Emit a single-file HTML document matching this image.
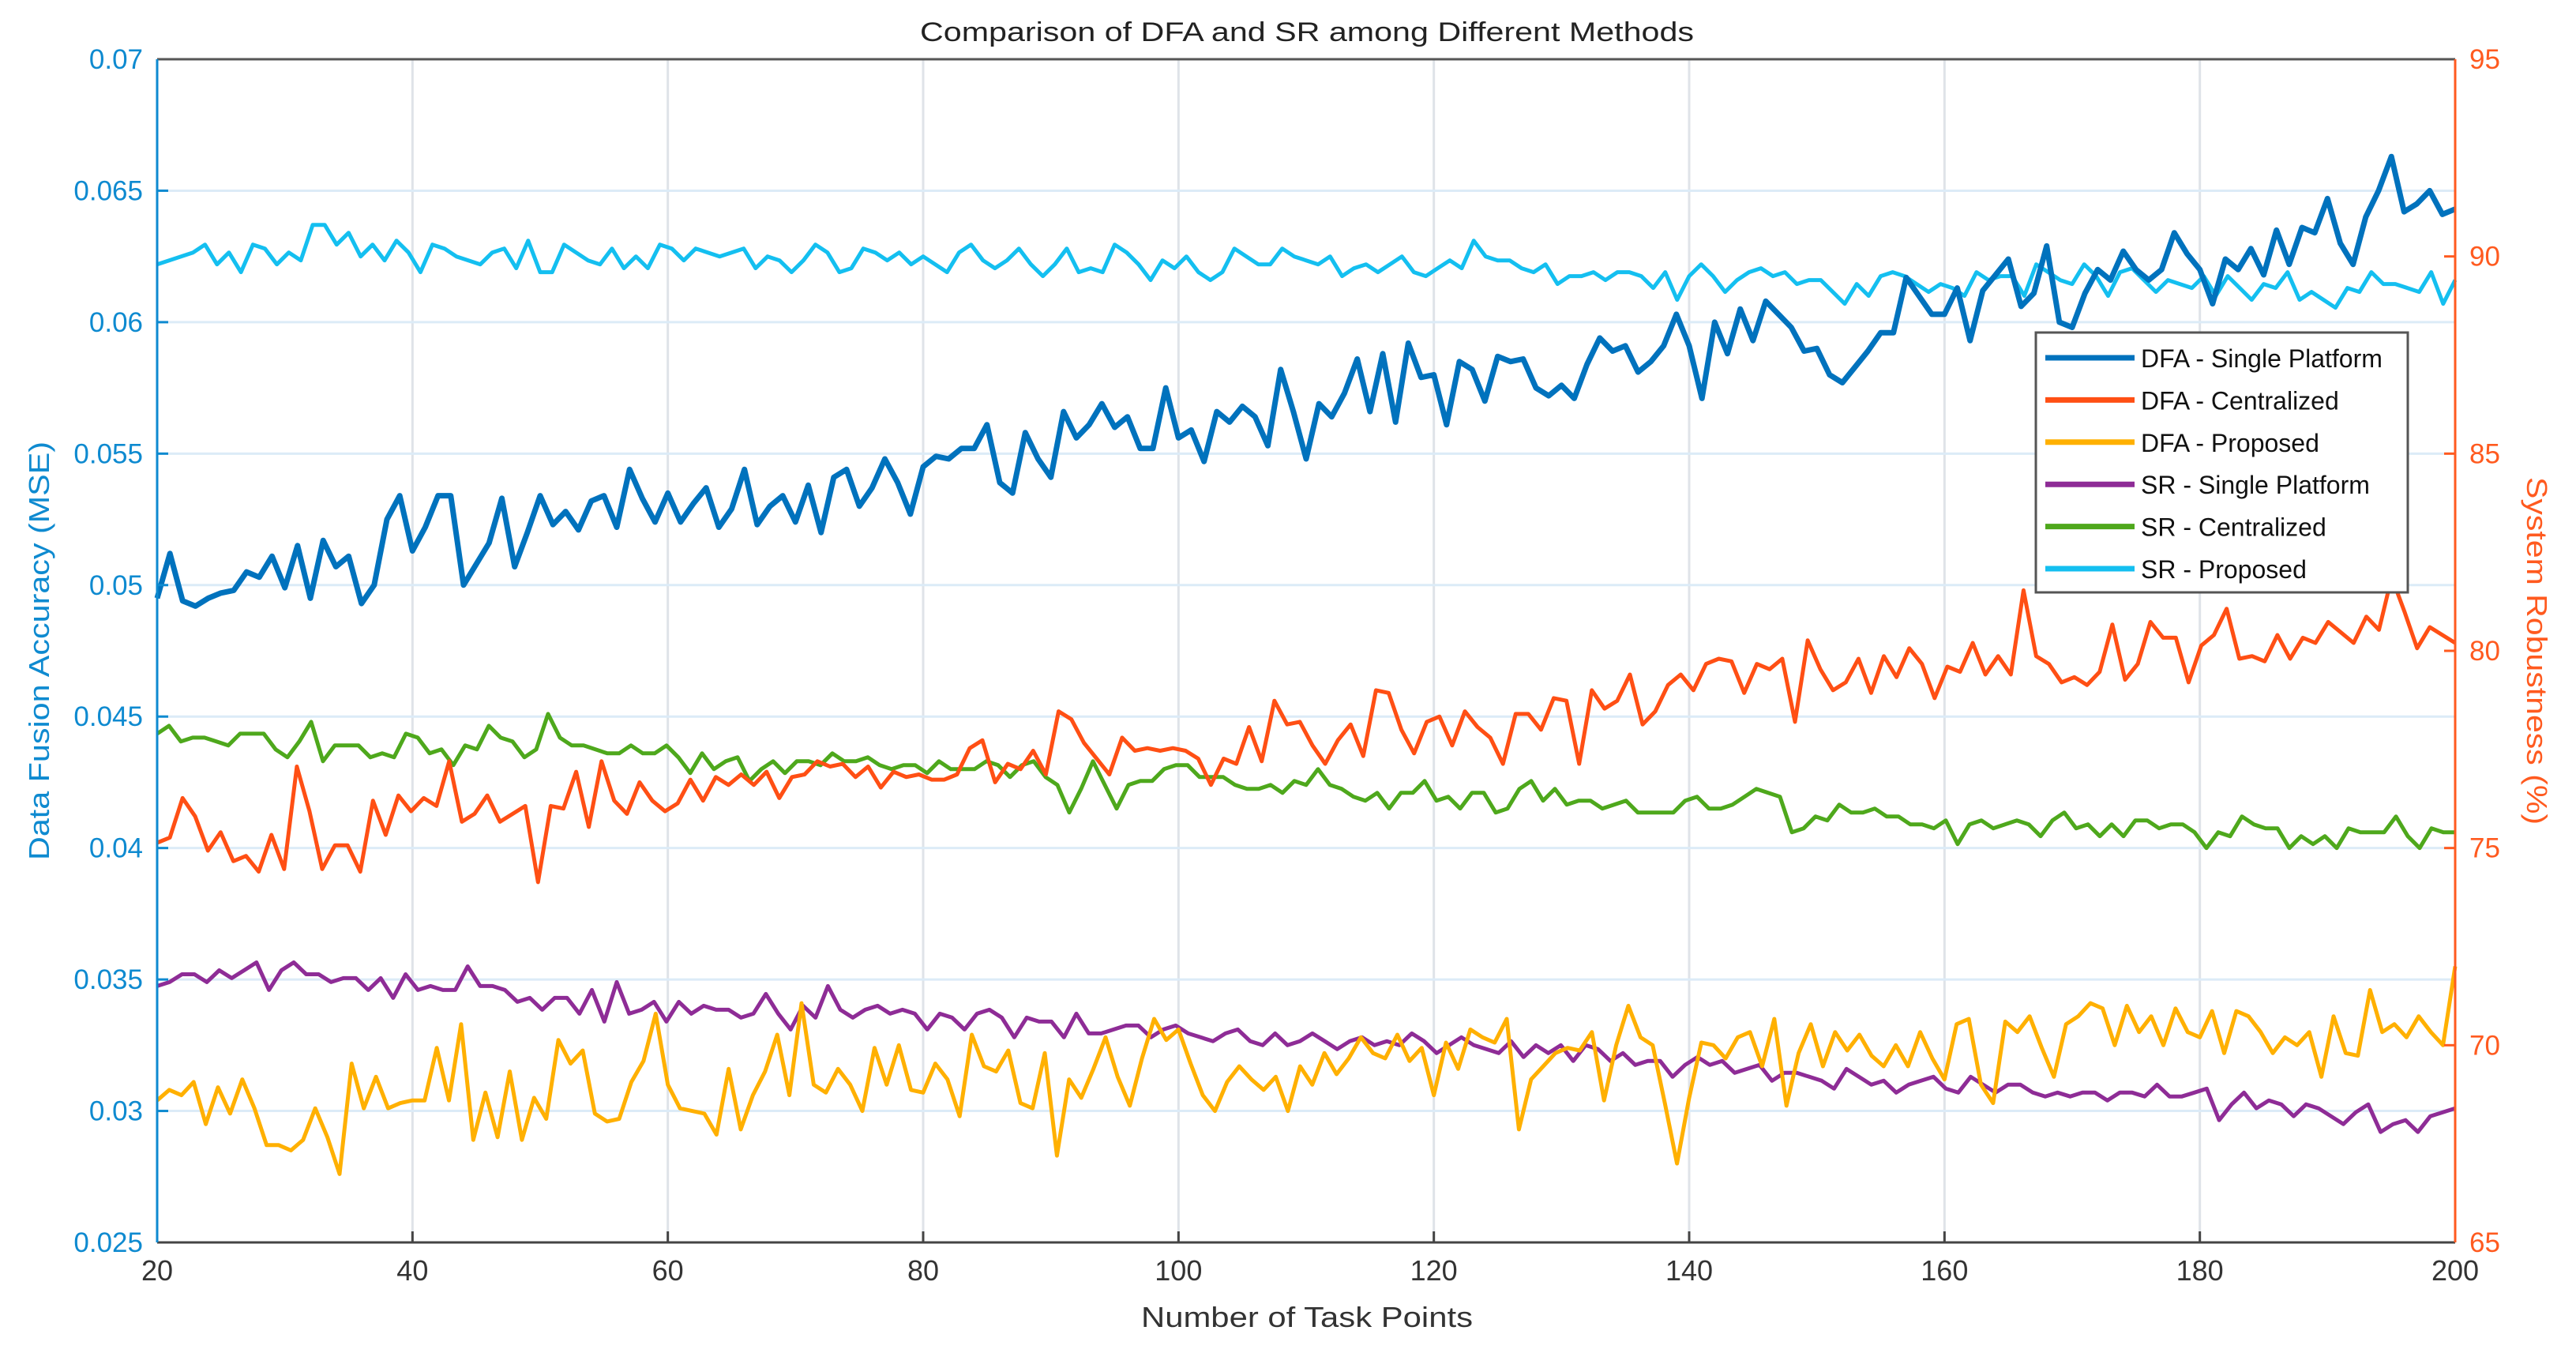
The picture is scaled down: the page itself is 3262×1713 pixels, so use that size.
<!DOCTYPE html>
<html><head><meta charset="utf-8">
<style>
html,body{margin:0;padding:0;background:#fff;}
svg{display:block;font-family:"Liberation Sans",Arial,sans-serif;}
</style></head>
<body>
<svg id="chart" width="3262" height="1713" viewBox="0 0 3262 1713" xmlns="http://www.w3.org/2000/svg">
<rect x="0" y="0" width="3262" height="1713" fill="#fff"/>
<g id="grid"></g>
<g id="series"></g>
<g id="axes"></g>
<text x="1655" y="52" font-size="34" fill="#222" text-anchor="middle" textLength="980" lengthAdjust="spacingAndGlyphs">Comparison of DFA and SR among Different Methods</text>
<text x="1655" y="1680" font-size="36" fill="#333" text-anchor="middle" textLength="420" lengthAdjust="spacingAndGlyphs">Number of Task Points</text>
<text transform="translate(62,824) rotate(-90)" font-size="36" fill="#0e8ad0" text-anchor="middle" textLength="530" lengthAdjust="spacingAndGlyphs">Data Fusion Accuracy (MSE)</text>
<text transform="translate(3200,824) rotate(90)" font-size="36" fill="#ff5a1f" text-anchor="middle" textLength="440" lengthAdjust="spacingAndGlyphs">System Robustness (%)</text>
<g id="legend"></g>
</svg>
<script>
const xTicks=[20,40,60,80,100,120,140,160,180,200];
const leftTicks=[0.025,0.03,0.035,0.04,0.045,0.05,0.055,0.06,0.065,0.07];
const leftTickLabels=["0.025","0.03","0.035","0.04","0.045","0.05","0.055","0.06","0.065","0.07"];
const rightTicks=[65,70,75,80,85,90,95];
const seriesNames=["DFA - Single Platform","DFA - Centralized","DFA - Proposed","SR - Single Platform","SR - Centralized","SR - Proposed"];
const dfaSingle=[0.0495,0.0512,0.0494,0.0492,0.0495,0.0497,0.0498,0.0505,0.0503,0.0511,0.0499,0.0515,0.0495,0.0517,0.0507,0.0511,0.0493,0.0500,0.0525,0.0534,0.0513,0.0522,0.0534,0.0534,0.0500,0.0508,0.0516,0.0533,0.0507,0.0520,0.0534,0.0523,0.0528,0.0521,0.0532,0.0534,0.0522,0.0544,0.0533,0.0524,0.0535,0.0524,0.0531,0.0537,0.0522,0.0529,0.0544,0.0523,0.0530,0.0534,0.0524,0.0538,0.0520,0.0541,0.0544,0.0530,0.0537,0.0548,0.0539,0.0527,0.0545,0.0549,0.0548,0.0552,0.0552,0.0561,0.0539,0.0535,0.0558,0.0548,0.0541,0.0566,0.0556,0.0561,0.0569,0.0560,0.0564,0.0552,0.0552,0.0575,0.0556,0.0559,0.0547,0.0566,0.0562,0.0568,0.0564,0.0553,0.0582,0.0566,0.0548,0.0569,0.0564,0.0573,0.0586,0.0566,0.0588,0.0562,0.0592,0.0579,0.0580,0.0561,0.0585,0.0582,0.0570,0.0587,0.0585,0.0586,0.0575,0.0572,0.0576,0.0571,0.0584,0.0594,0.0589,0.0591,0.0581,0.0585,0.0591,0.0603,0.0591,0.0571,0.0600,0.0588,0.0605,0.0593,0.0608,0.0603,0.0598,0.0589,0.0590,0.0580,0.0577,0.0583,0.0589,0.0596,0.0596,0.0617,0.0610,0.0603,0.0603,0.0613,0.0593,0.0612,0.0618,0.0624,0.0606,0.0611,0.0629,0.0600,0.0598,0.0611,0.0620,0.0616,0.0627,0.0620,0.0616,0.0620,0.0634,0.0626,0.0620,0.0607,0.0624,0.0620,0.0628,0.0618,0.0635,0.0622,0.0636,0.0634,0.0647,0.0630,0.0622,0.0640,0.0650,0.0663,0.0642,0.0645,0.0650,0.0641,0.0643];
const dfaCentral=[0.0402,0.0404,0.0419,0.0412,0.0399,0.0406,0.0395,0.0397,0.0391,0.0405,0.0392,0.0431,0.0414,0.0392,0.0401,0.0401,0.0391,0.0418,0.0405,0.0420,0.0414,0.0419,0.0416,0.0433,0.0410,0.0413,0.0420,0.0410,0.0413,0.0416,0.0387,0.0416,0.0415,0.0429,0.0408,0.0433,0.0418,0.0413,0.0425,0.0418,0.0414,0.0417,0.0426,0.0418,0.0427,0.0424,0.0428,0.0424,0.0429,0.0419,0.0427,0.0428,0.0433,0.0431,0.0432,0.0427,0.0431,0.0423,0.0429,0.0427,0.0428,0.0426,0.0426,0.0428,0.0438,0.0441,0.0425,0.0432,0.0430,0.0437,0.0428,0.0452,0.0449,0.0440,0.0434,0.0428,0.0442,0.0437,0.0438,0.0437,0.0438,0.0437,0.0434,0.0424,0.0434,0.0432,0.0446,0.0433,0.0456,0.0447,0.0448,0.0439,0.0432,0.0441,0.0447,0.0435,0.0460,0.0459,0.0445,0.0436,0.0448,0.0450,0.0439,0.0452,0.0446,0.0442,0.0432,0.0451,0.0451,0.0445,0.0457,0.0456,0.0432,0.0460,0.0453,0.0456,0.0466,0.0447,0.0452,0.0462,0.0466,0.0460,0.0470,0.0472,0.0471,0.0459,0.0470,0.0468,0.0472,0.0448,0.0479,0.0468,0.0460,0.0463,0.0472,0.0459,0.0473,0.0465,0.0476,0.0470,0.0457,0.0469,0.0467,0.0478,0.0466,0.0473,0.0466,0.0498,0.0473,0.0470,0.0463,0.0465,0.0462,0.0467,0.0485,0.0464,0.0470,0.0486,0.0480,0.0480,0.0463,0.0477,0.0481,0.0491,0.0472,0.0473,0.0471,0.0481,0.0472,0.0480,0.0478,0.0486,0.0482,0.0478,0.0488,0.0483,0.0503,0.0490,0.0476,0.0484,0.0481,0.0478];
const dfaProposed=[0.0304,0.0308,0.0306,0.0311,0.0295,0.0309,0.0299,0.0312,0.0301,0.0287,0.0287,0.0285,0.0289,0.0301,0.0290,0.0276,0.0318,0.0301,0.0313,0.0301,0.0303,0.0304,0.0304,0.0324,0.0304,0.0333,0.0289,0.0307,0.0290,0.0315,0.0289,0.0305,0.0297,0.0327,0.0318,0.0323,0.0299,0.0296,0.0297,0.0311,0.0319,0.0337,0.0310,0.0301,0.0300,0.0299,0.0291,0.0316,0.0293,0.0306,0.0315,0.0329,0.0306,0.0341,0.0310,0.0307,0.0316,0.0310,0.0300,0.0324,0.0310,0.0325,0.0308,0.0307,0.0318,0.0312,0.0298,0.0329,0.0317,0.0315,0.0323,0.0303,0.0301,0.0322,0.0283,0.0312,0.0305,0.0316,0.0328,0.0313,0.0302,0.0320,0.0335,0.0327,0.0331,0.0318,0.0306,0.0300,0.0311,0.0317,0.0312,0.0308,0.0313,0.0300,0.0317,0.0310,0.0322,0.0314,0.0320,0.0328,0.0322,0.0320,0.0329,0.0319,0.0324,0.0306,0.0326,0.0316,0.0331,0.0328,0.0326,0.0335,0.0293,0.0312,0.0317,0.0322,0.0324,0.0323,0.0330,0.0304,0.0325,0.0340,0.0328,0.0325,0.0303,0.0280,0.0305,0.0326,0.0325,0.0320,0.0328,0.0330,0.0317,0.0335,0.0302,0.0322,0.0333,0.0317,0.0330,0.0323,0.0329,0.0321,0.0317,0.0325,0.0317,0.0330,0.0320,0.0312,0.0333,0.0335,0.0310,0.0303,0.0334,0.0330,0.0336,0.0324,0.0313,0.0333,0.0336,0.0341,0.0339,0.0325,0.0340,0.0330,0.0336,0.0325,0.0339,0.0330,0.0328,0.0338,0.0322,0.0338,0.0336,0.0330,0.0322,0.0328,0.0325,0.0330,0.0313,0.0336,0.0322,0.0321,0.0346,0.0330,0.0333,0.0328,0.0336,0.0330,0.0325,0.0355];
const srSingle=[71.5,71.6,71.8,71.8,71.6,71.9,71.7,71.9,72.1,71.4,71.9,72.1,71.8,71.8,71.6,71.7,71.7,71.4,71.7,71.2,71.8,71.4,71.5,71.4,71.4,72.0,71.5,71.5,71.4,71.1,71.2,70.9,71.2,71.2,70.8,71.4,70.6,71.6,70.8,70.9,71.1,70.6,71.1,70.8,71.0,70.9,70.9,70.7,70.8,71.3,70.8,70.4,71.0,70.7,71.5,70.9,70.7,70.9,71.0,70.8,70.9,70.8,70.4,70.8,70.7,70.4,70.8,70.9,70.7,70.2,70.7,70.6,70.6,70.2,70.8,70.3,70.3,70.4,70.5,70.5,70.2,70.4,70.5,70.3,70.2,70.1,70.3,70.4,70.1,70.0,70.3,70.0,70.1,70.3,70.1,69.9,70.1,70.2,70.0,70.1,70.0,70.3,70.1,69.8,70.0,70.2,70.0,69.9,69.8,70.1,69.7,70.0,69.8,70.0,69.6,70.0,69.9,69.6,69.8,69.5,69.6,69.6,69.2,69.5,69.7,69.5,69.6,69.3,69.4,69.5,69.1,69.3,69.3,69.2,69.1,68.9,69.4,69.2,69.0,69.1,68.8,69.0,69.1,69.2,68.9,68.8,69.2,69.0,68.8,69.0,69.0,68.8,68.7,68.8,68.7,68.8,68.8,68.6,68.8,68.8,68.7,69.0,68.7,68.7,68.8,68.9,68.1,68.5,68.8,68.4,68.6,68.5,68.2,68.5,68.4,68.2,68.0,68.3,68.5,67.8,68.0,68.1,67.8,68.2,68.3,68.4];
const srCentral=[77.9,78.1,77.7,77.8,77.8,77.7,77.6,77.9,77.9,77.9,77.5,77.3,77.7,78.2,77.2,77.6,77.6,77.6,77.3,77.4,77.3,77.9,77.8,77.4,77.5,77.1,77.6,77.5,78.1,77.8,77.7,77.3,77.5,78.4,77.8,77.6,77.6,77.5,77.4,77.4,77.6,77.4,77.4,77.6,77.3,76.9,77.4,77.0,77.2,77.3,76.7,77.0,77.2,76.9,77.2,77.2,77.1,77.4,77.2,77.2,77.3,77.1,77.0,77.1,77.1,76.9,77.2,77.0,77.0,77.0,77.2,77.1,76.8,77.1,77.2,76.8,76.6,75.9,76.5,77.2,76.6,76.0,76.6,76.7,76.7,77.0,77.1,77.1,76.8,76.8,76.8,76.6,76.5,76.5,76.6,76.4,76.7,76.6,77.0,76.6,76.5,76.3,76.2,76.4,76.0,76.4,76.4,76.7,76.2,76.3,76.0,76.4,76.4,75.9,76.0,76.5,76.7,76.2,76.5,76.1,76.2,76.2,76.0,76.1,76.2,75.9,75.9,75.9,75.9,76.2,76.3,76.0,76.0,76.1,76.3,76.5,76.4,76.3,75.4,75.5,75.8,75.7,76.1,75.9,75.9,76.0,75.8,75.8,75.6,75.6,75.5,75.7,75.1,75.6,75.7,75.5,75.6,75.7,75.6,75.3,75.7,75.9,75.5,75.6,75.3,75.6,75.3,75.7,75.7,75.5,75.6,75.6,75.4,75.0,75.4,75.3,75.8,75.6,75.5,75.5,75.0,75.3,75.1,75.3,75.0,75.5,75.4,75.4,75.4,75.8,75.3,75.0,75.5,75.4,75.4];
const srProposed=[89.8,89.9,90.0,90.1,90.3,89.8,90.1,89.6,90.3,90.2,89.8,90.1,89.9,90.8,90.8,90.3,90.6,90.0,90.3,89.9,90.4,90.1,89.6,90.3,90.2,90.0,89.9,89.8,90.1,90.2,89.7,90.4,89.6,89.6,90.3,90.1,89.9,89.8,90.2,89.7,90.0,89.7,90.3,90.2,89.9,90.2,90.1,90.0,90.1,90.2,89.7,90.0,89.9,89.6,89.9,90.3,90.1,89.6,89.7,90.2,90.1,89.9,90.1,89.8,90.0,89.8,89.6,90.1,90.3,89.9,89.7,89.9,90.2,89.8,89.5,89.8,90.2,89.6,89.7,89.6,90.3,90.1,89.8,89.4,89.9,89.7,90.0,89.6,89.4,89.6,90.2,90.0,89.8,89.8,90.2,90.0,89.9,89.8,90.0,89.5,89.7,89.8,89.6,89.8,90.0,89.6,89.5,89.7,89.9,89.7,90.4,90.0,89.9,89.9,89.7,89.6,89.8,89.3,89.5,89.5,89.6,89.4,89.6,89.6,89.5,89.2,89.6,88.9,89.5,89.8,89.5,89.1,89.4,89.6,89.7,89.5,89.6,89.3,89.4,89.4,89.1,88.8,89.3,89.0,89.5,89.6,89.5,89.3,89.1,89.3,89.2,89.0,89.6,89.4,89.5,89.5,89.0,89.8,89.6,89.4,89.3,89.8,89.5,89.0,89.6,89.7,89.4,89.1,89.4,89.3,89.2,89.5,89.0,89.5,89.2,88.9,89.3,89.2,89.6,88.9,89.1,88.9,88.7,89.2,89.1,89.6,89.3,89.3,89.2,89.1,89.6,88.8,89.4];

const NS="http://www.w3.org/2000/svg";
const X0=199,X1=3109,Y0=75,Y1=1573;
const xMin=20,xMax=200;
function xs(v){return X0+(v-xMin)/(xMax-xMin)*(X1-X0);}
function yl(v){return Y1-(v-0.025)/(0.07-0.025)*(Y1-Y0);}
function yr(v){return Y1-(v-65)/(95-65)*(Y1-Y0);}
function mk(tag,attrs,parent){const e=document.createElementNS(NS,tag);for(const k in attrs)e.setAttribute(k,attrs[k]);parent.appendChild(e);return e;}
const gridG=document.getElementById('grid'),axesG=document.getElementById('axes'),serG=document.getElementById('series'),legG=document.getElementById('legend');

xTicks.forEach((t,i)=>{
  const x=xs(t);
  const g=mk('line',{x1:x,x2:x,y1:Y0,y2:Y1,stroke:'#dfe3e8','stroke-width':3},gridG);
  
  
  const tk=mk('line',{x1:x,x2:x,y1:Y1,y2:Y1-14,stroke:'#444','stroke-width':3},axesG);
  
  
  const lb=mk('text',{x:x,y:Y1+48,'font-size':36,fill:'#333','text-anchor':'middle'},axesG);
  lb.textContent=String(t);
  
  
});
leftTicks.forEach((t,i)=>{
  const y=yl(t);
  const g=mk('line',{x1:X0,x2:X1,y1:y,y2:y,stroke:'#dcebf7','stroke-width':3},gridG);
  
  
  const tk=mk('line',{x1:X0,x2:X0+14,y1:y,y2:y,stroke:'#0e8ad0','stroke-width':3},axesG);
  
  
  const lb=mk('text',{x:X0-18,y:y+12,'font-size':35,fill:'#0e8ad0','text-anchor':'end'},axesG);
  lb.textContent=leftTickLabels[i];
  
  
});
rightTicks.forEach(t=>{
  const y=yr(t);
  const tk=mk('line',{x1:X1-14,x2:X1,y1:y,y2:y,stroke:'#ff5a1f','stroke-width':3},axesG);
  
  
  const lb=mk('text',{x:X1+18,y:y+12,'font-size':35,fill:'#ff5a1f','text-anchor':'start'},axesG);
  lb.textContent=String(t);
  
  
});
const topLine=mk('line',{x1:X0,x2:X1,y1:Y0,y2:Y0,stroke:'#555','stroke-width':3},axesG);


const botLine=mk('line',{x1:X0,x2:X1,y1:Y1,y2:Y1,stroke:'#444','stroke-width':3},axesG);


const leftLine=mk('line',{x1:X0,x2:X0,y1:Y0,y2:Y1,stroke:'#0e8ad0','stroke-width':3},axesG);


const rightLine=mk('line',{x1:X1,x2:X1,y1:Y0,y2:Y1,stroke:'#ff5a1f','stroke-width':3},axesG);



const defs=[
 {data:dfaSingle,scale:yl,color:'#0072bd',w:7,name:'dfa-single-platform-line'},
 {data:dfaCentral,scale:yl,color:'#ff4f14',w:5,name:'dfa-centralized-line'},
 {data:dfaProposed,scale:yl,color:'#ffb000',w:5,name:'dfa-proposed-line'},
 {data:srSingle,scale:yr,color:'#8e2c96',w:5,name:'sr-single-platform-line'},
 {data:srCentral,scale:yr,color:'#4ea81c',w:5,name:'sr-centralized-line'},
 {data:srProposed,scale:yr,color:'#14bff0',w:5,name:'sr-proposed-line'}
];
const order=[5,4,3,2,1,0];
order.forEach(k=>{
  const d=defs[k];const n=d.data.length;
  const pts=d.data.map((v,i)=>xs(xMin+i*(xMax-xMin)/(n-1)).toFixed(1)+','+d.scale(v).toFixed(1)).join(' ');
  const p=mk('polyline',{points:pts,fill:'none',stroke:d.color,'stroke-width':d.w,'stroke-linejoin':'round'},serG);
  
  
});

const box=mk('rect',{x:2578,y:421,width:471,height:329,fill:'#fff',stroke:'#555','stroke-width':3},legG);


seriesNames.forEach((s,i)=>{
  const y=453+i*53.4;
  const l=mk('line',{x1:2590,x2:2703,y1:y,y2:y,stroke:defs[i].color,'stroke-width':7},legG);
  
  
  const t=mk('text',{x:2711,y:y+12,'font-size':32,fill:'#111'},legG);
  t.textContent=s;
  
  
});
</script>
</body></html>
